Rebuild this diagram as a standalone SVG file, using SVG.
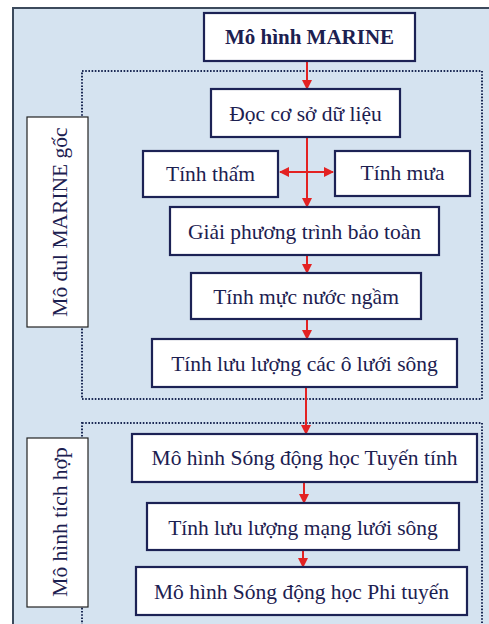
<svg xmlns="http://www.w3.org/2000/svg" width="489" height="624" viewBox="0 0 489 624">
<defs>
<style>
.box{fill:#ffffff;stroke:#1c2255;stroke-width:2.2}
.lab{fill:#ffffff;stroke:#222;stroke-width:1.2}
.dot{fill:none;stroke:#1c2a55;stroke-width:2;stroke-dasharray:1.6 1.6}
.t{font-family:"Liberation Serif","Times New Roman",serif;font-size:21.5px;fill:#1c2050;text-anchor:middle}
.b{font-weight:bold;font-size:21px}
.c{stroke:#e32222;stroke-width:2;fill:none}
</style>
<marker id="ah" viewBox="0 0 10 10" refX="9" refY="5" markerWidth="5" markerHeight="5" orient="auto-start-reverse" markerUnits="strokeWidth">
<path d="M0,0 L10,5 L0,10 z" fill="#e32222"/>
</marker>
</defs>
<rect x="0" y="0" width="489" height="624" fill="#ffffff"/>
<rect x="13" y="8" width="490" height="630" fill="#d5e3f0" stroke="#3c4a5c" stroke-width="2"/>
<rect class="dot" x="82" y="71" width="400" height="328"/>
<rect class="dot" x="82" y="423" width="400" height="210"/>

<g id="connectors">
<line class="c" x1="307" y1="62" x2="307" y2="89" marker-end="url(#ah)"/>
<line class="c" x1="307" y1="138" x2="307" y2="207" marker-end="url(#ah)"/>
<line class="c" x1="280" y1="172" x2="333" y2="172" marker-start="url(#ah)" marker-end="url(#ah)"/>
<line class="c" x1="307" y1="256" x2="307" y2="273" marker-end="url(#ah)"/>
<line class="c" x1="307" y1="320" x2="307" y2="339" marker-end="url(#ah)"/>
<line class="c" x1="306" y1="388" x2="306" y2="434" marker-end="url(#ah)"/>
<line class="c" x1="304" y1="483" x2="304" y2="503" marker-end="url(#ah)"/>
<line class="c" x1="303" y1="551" x2="303" y2="567" marker-end="url(#ah)"/>
</g>

<g id="n-marine">
<rect class="box" x="204" y="13" width="211" height="48"/>
<text class="t b" x="309.5" y="44">Mô hình MARINE</text>
</g>
<g id="n-doc">
<rect class="box" x="211" y="89" width="189" height="48"/>
<text class="t" x="305.5" y="121">Đọc cơ sở dữ liệu</text>
</g>
<g id="n-tham">
<rect class="box" x="143" y="151" width="135" height="46"/>
<text class="t" x="210.5" y="181">Tính thấm</text>
</g>
<g id="n-mua">
<rect class="box" x="335" y="151" width="135" height="45"/>
<text class="t" x="402.5" y="180">Tính mưa</text>
</g>
<g id="n-giai">
<rect class="box" x="170" y="207" width="269" height="48"/>
<text class="t" x="304.5" y="239">Giải phương trình bảo toàn</text>
</g>
<g id="n-mucnuoc">
<rect class="box" x="191" y="273" width="230" height="46"/>
<text class="t" x="306" y="304">Tính mực nước ngầm</text>
</g>
<g id="n-luuluong-o">
<rect class="box" x="152" y="339" width="305" height="48"/>
<text class="t" x="304.5" y="371">Tính lưu lượng các ô lưới sông</text>
</g>
<g id="n-tuyentinh">
<rect class="box" x="132" y="434" width="345" height="48"/>
<text class="t" x="304.5" y="465">Mô hình Sóng động học Tuyến tính</text>
</g>
<g id="n-mangluoi">
<rect class="box" x="147" y="503" width="312" height="47"/>
<text class="t" x="303" y="535">Tính lưu lượng mạng lưới sông</text>
</g>
<g id="n-phituyen">
<rect class="box" x="136" y="567" width="331" height="48"/>
<text class="t" x="301.5" y="599">Mô hình Sóng động học Phi tuyến</text>
</g>
<g id="lab-goc">
<rect class="lab" x="27" y="117" width="61" height="210"/>
<text class="t" transform="translate(67,222) rotate(-90)" x="0" y="0">Mô đul MARINE gốc</text>
</g>
<g id="lab-tichhop">
<rect class="lab" x="27" y="438" width="61" height="169"/>
<text class="t" transform="translate(67,522) rotate(-90)" x="0" y="0">Mô hình tích hợp</text>
</g>
</svg>
